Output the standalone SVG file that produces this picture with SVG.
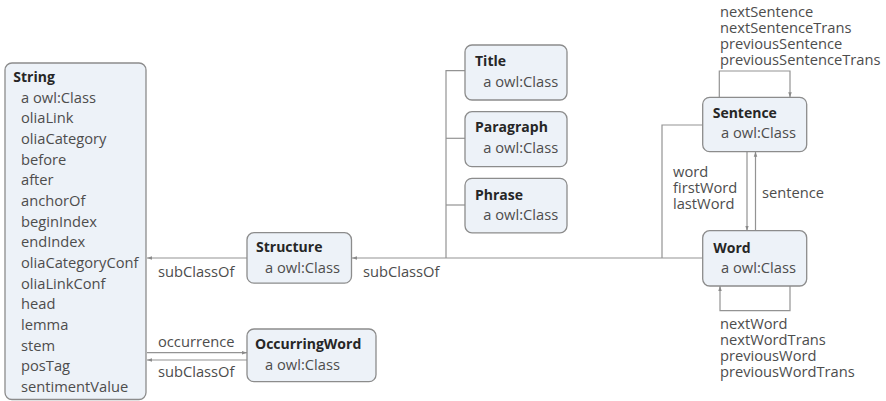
<svg xmlns="http://www.w3.org/2000/svg" width="886" height="401" viewBox="0 0 886 401">
<defs>
<marker id="arr" viewBox="0 0 10 10" refX="10" refY="5" markerWidth="5" markerHeight="5" orient="auto" markerUnits="userSpaceOnUse">
<path d="M0,1.5 L10,5 L0,8.5 z" fill="#8a8a8a"/>
</marker>
</defs>
<style>
.box{fill:#edf2f8;stroke:#8c8c8c;stroke-width:1.3}
.t{font-family:"Open Sans","Noto Sans",sans-serif;font-size:14.7px;fill:#4d4d4d}
.b{font-family:"Open Sans","Noto Sans",sans-serif;font-size:14px;font-weight:bold;fill:#262626}
.ln{fill:none;stroke:#939393;stroke-width:1.2}
</style>
<rect width="886" height="401" fill="#ffffff"/>
<g id="connectors">
<path class="ln" d="M247,258 L147,258" marker-end="url(#arr)"/>
<path class="ln" d="M702.7,258 L352,258" marker-end="url(#arr)"/>
<path class="ln" d="M465,70.7 L446,70.7 L446,258"/>
<path class="ln" d="M465,138.3 L446,138.3"/>
<path class="ln" d="M465,205 L446,205"/>
<path class="ln" d="M702.7,125 L662,125 L662,258"/>
<path class="ln" d="M147,352.7 L247,352.7" marker-end="url(#arr)"/>
<path class="ln" d="M247,360 L147,360" marker-end="url(#arr)"/>
<path class="ln" d="M747,151.7 L747,230.7" marker-end="url(#arr)"/>
<path class="ln" d="M755.5,230.7 L755.5,151.7" marker-end="url(#arr)"/>
<path class="ln" d="M719.3,97.3 L719.3,71 L790,71 L790,97.3" marker-end="url(#arr)"/>
<path class="ln" d="M790,286 L790,310.7 L720,310.7 L720,286" marker-end="url(#arr)"/>
<text class="t" x="158" y="276.5">subClassOf</text>
<text class="t" x="363" y="276.5">subClassOf</text>
<text class="t" x="158" y="346.5">occurrence</text>
<text class="t" x="158" y="376.5">subClassOf</text>
<text class="t" x="720" y="16.5">nextSentence</text>
<text class="t" x="720" y="32.5">nextSentenceTrans</text>
<text class="t" x="720" y="48.5">previousSentence</text>
<text class="t" x="720" y="64.5">previousSentenceTrans</text>
<text class="t" x="673" y="176.5">word</text>
<text class="t" x="673" y="192.5">firstWord</text>
<text class="t" x="673" y="208.5">lastWord</text>
<text class="t" x="762" y="197.5">sentence</text>
<text class="t" x="720" y="329">nextWord</text>
<text class="t" x="720" y="345">nextWordTrans</text>
<text class="t" x="720" y="361">previousWord</text>
<text class="t" x="720" y="377">previousWordTrans</text>
</g>
<g id="String">
<rect class="box" x="5" y="63" width="141" height="336.5" rx="7"/>
<text class="b" x="13.3" y="82">String</text>
<text class="t" x="21" y="102.7">a owl:Class</text>
<text class="t" x="21" y="123.3">oliaLink</text>
<text class="t" x="21" y="144">oliaCategory</text>
<text class="t" x="21" y="164.7">before</text>
<text class="t" x="21" y="185.3">after</text>
<text class="t" x="21" y="206">anchorOf</text>
<text class="t" x="21" y="226.7">beginIndex</text>
<text class="t" x="21" y="247.3">endIndex</text>
<text class="t" x="21" y="268">oliaCategoryConf</text>
<text class="t" x="21" y="288.7">oliaLinkConf</text>
<text class="t" x="21" y="309.3">head</text>
<text class="t" x="21" y="330">lemma</text>
<text class="t" x="21" y="350.7">stem</text>
<text class="t" x="21" y="371.3">posTag</text>
<text class="t" x="21" y="392">sentimentValue</text>
</g>
<g id="Structure">
<rect class="box" x="247" y="232.7" width="104.5" height="50.5" rx="7"/>
<text class="b" x="256" y="252">Structure</text>
<text class="t" x="265" y="273">a owl:Class</text>
</g>
<g id="OccurringWord">
<rect class="box" x="247" y="329" width="129" height="52.7" rx="7"/>
<text class="b" x="255" y="349">OccurringWord</text>
<text class="t" x="265" y="370">a owl:Class</text>
</g>
<g id="Title">
<rect class="box" x="465" y="45" width="102" height="55" rx="7"/>
<text class="b" x="475" y="66">Title</text>
<text class="t" x="483.3" y="87">a owl:Class</text>
</g>
<g id="Paragraph">
<rect class="box" x="465" y="111.7" width="102" height="55" rx="7"/>
<text class="b" x="475" y="132.3">Paragraph</text>
<text class="t" x="483.3" y="153.3">a owl:Class</text>
</g>
<g id="Phrase">
<rect class="box" x="465" y="178.3" width="102" height="54.5" rx="7"/>
<text class="b" x="475" y="200">Phrase</text>
<text class="t" x="483.3" y="220">a owl:Class</text>
</g>
<g id="Sentence">
<rect class="box" x="702.7" y="97.3" width="104" height="54.4" rx="7"/>
<text class="b" x="712.7" y="118.3">Sentence</text>
<text class="t" x="721" y="138.3">a owl:Class</text>
</g>
<g id="Word">
<rect class="box" x="702.7" y="230.7" width="104" height="55.3" rx="7"/>
<text class="b" x="713.3" y="252.7">Word</text>
<text class="t" x="721" y="273.3">a owl:Class</text>
</g>
</svg>
